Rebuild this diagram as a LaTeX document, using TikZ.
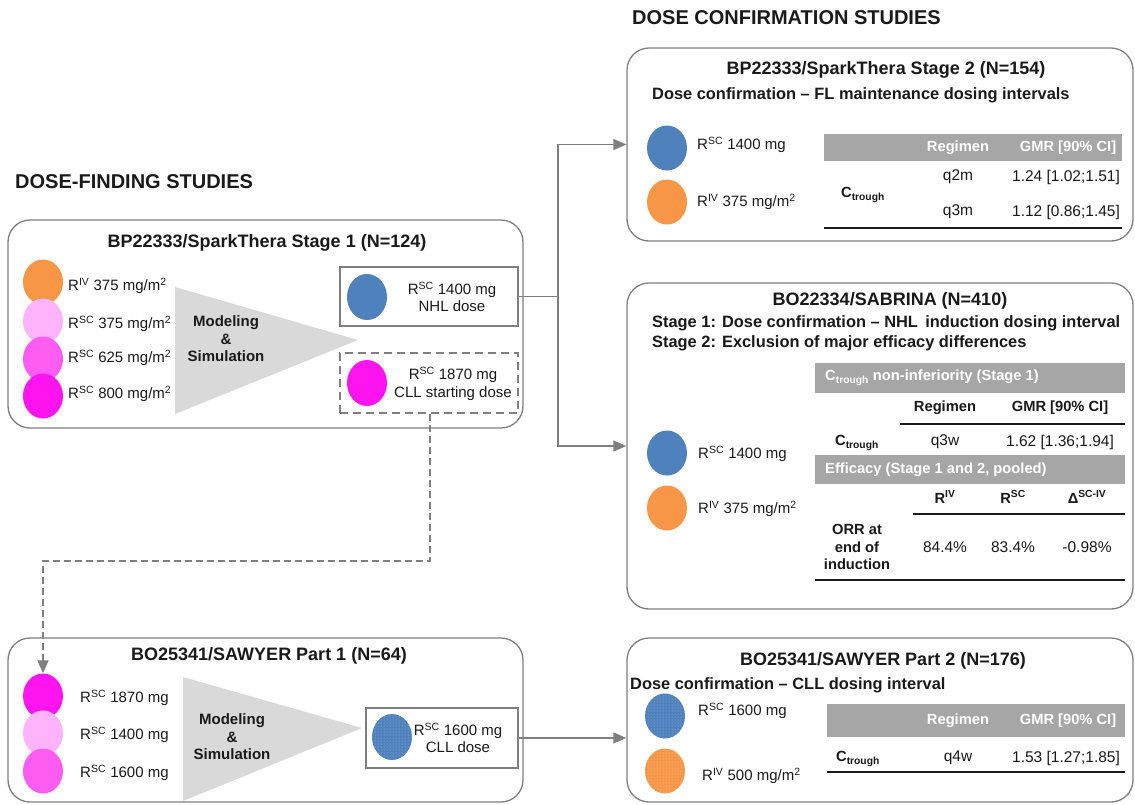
\documentclass[tikz,border=0pt]{standalone}
\usepackage{fontspec}
\setmainfont{Liberation Sans}
\usetikzlibrary{shapes.geometric,arrows.meta,patterns}
\definecolor{cOr}{HTML}{F79646}
\definecolor{cBl}{HTML}{4F81BD}
\definecolor{cPkL}{HTML}{FFB3FA}
\definecolor{cPkM}{HTML}{FF5CF2}
\definecolor{cPkD}{HTML}{FF14F0}
\definecolor{cLine}{HTML}{7F7F7F}
\definecolor{cHdr}{HTML}{A6A6A6}
\definecolor{cTri}{HTML}{D9D9D9}
\definecolor{cTxt}{HTML}{1A1A1A}
\begin{document}
\begin{tikzpicture}[x=1pt,y=-1pt,
  every node/.style={inner sep=0pt, text=cTxt},
  head/.style={font=\fontsize{20}{24}\selectfont\bfseries},
  ttl/.style={font=\fontsize{18}{21}\selectfont\bfseries},
  sub/.style={font=\fontsize{16.4}{19}\selectfont\bfseries},
  lbl/.style={font=\fontsize{15}{17.5}\selectfont},
  tb/.style={font=\fontsize{14.7}{17.5}\selectfont\bfseries},
  tw/.style={font=\fontsize{14.7}{17.5}\selectfont\bfseries, text=white},
  tr/.style={font=\fontsize{15.5}{18}\selectfont},
  ms/.style={font=\fontsize{15}{17.5}\selectfont\bfseries, align=center},
  panel/.style={draw=cLine, line width=1.3pt, rounded corners=22pt, fill=white},
  dot/.style={ellipse, minimum width=40pt, minimum height=45pt},
  ddot/.style={dot, postaction={pattern=dots, pattern color=white!55!#1}, fill=#1},
  box/.style={draw=cLine, line width=1.5pt, fill=white},
  hdr/.style={fill=cHdr, anchor=north west},
  conn/.style={draw=cLine, line width=1.6pt},
  tip/.style={-{Triangle[length=13pt,width=11pt]}},
  tri/.style={fill=cTri},
  rule/.style={draw=cTxt, line width=1.3pt}
]
\useasboundingbox (0,0) rectangle (1135,804);

% headings
\node[head, anchor=west] (h1) at (632,18) {DOSE CONFIRMATION STUDIES};
\node[head, anchor=west] (h2) at (15,182) {DOSE-FINDING STUDIES};

% panels
\node[panel, minimum width=515pt, minimum height=208pt] (p1) at (265.5,324) {};
\node[panel, minimum width=506pt, minimum height=193pt] (p2) at (880,144.5) {};
\node[panel, minimum width=506pt, minimum height=326pt] (p3) at (880,446) {};
\node[panel, minimum width=515pt, minimum height=164pt] (p4) at (265.5,720) {};
\node[panel, minimum width=506pt, minimum height=164pt] (p5) at (880,720) {};

% ---------- Stage 1 ----------
\node[ttl] (t1) at (267,243) {BP22333/SparkThera Stage 1 (N=124)};
\node[dot, fill=cOr] (a1) at (43,282) {};
\node[dot, fill=cPkL] (a2) at (43,321) {};
\node[dot, fill=cPkM] (a3) at (43,359) {};
\node[dot, fill=cPkD] (a4) at (43,396) {};
\node[lbl, anchor=west] (l1) at (68,286) {R\textsuperscript{IV} 375 mg/m\textsuperscript{2}};
\node[lbl, anchor=west] (l2) at (68,324) {R\textsuperscript{SC} 375 mg/m\textsuperscript{2}};
\node[lbl, anchor=west] (l3) at (68,358) {R\textsuperscript{SC} 625 mg/m\textsuperscript{2}};
\node[lbl, anchor=west] (l4) at (68,394) {R\textsuperscript{SC} 800 mg/m\textsuperscript{2}};
\fill[tri] (175,287) -- (175,414) -- (358,340) -- cycle;
\node[ms] (m1) at (226,339) {Modeling\\\&\\Simulation};

\node[box, minimum width=178pt, minimum height=59pt] (nb) at (429,296.5) {};
\node[dot, fill=cBl, minimum height=46pt] (nbc) at (367,297) {};
\node[lbl, align=center] (nbt) at (452,297) {R\textsuperscript{SC} 1400 mg\\NHL dose};

\node[box, dashed, dash pattern=on 8pt off 5pt, minimum width=178pt, minimum height=60pt] (cb) at (429,383) {};
\node[dot, fill=cPkD, minimum height=46pt] (cbc) at (367,383) {};
\node[lbl, align=center] (cbt) at (453,384) {R\textsuperscript{SC} 1870 mg\\CLL starting dose};

% connectors from NHL dose
\coordinate (j) at (558,300);
\draw[conn] (nb.east) -- (nb.east -| j);
\draw[conn, tip] (nb.east -| j) |- (p2.west);
\draw[conn, tip] (nb.east -| j) |- (p3.west);

% ---------- Stage 2 ----------
\node[ttl] (t2) at (886,70) {BP22333/SparkThera Stage 2 (N=154)};
\node[sub, anchor=west] (s2) at (652,95) {Dose confirmation -- FL maintenance dosing intervals};
\node[dot, fill=cBl] (b1) at (667,148) {};
\node[dot, fill=cOr] (b2) at (667,202) {};
\node[lbl, anchor=west] (bl1) at (697,145) {R\textsuperscript{SC} 1400 mg};
\node[lbl, anchor=west] (bl2) at (697,202) {R\textsuperscript{IV} 375 mg/m\textsuperscript{2}};
\node[hdr, minimum width=298pt, minimum height=27pt] (hb2) at (824,134) {};
\node[tw] (r2h1) at (958,147.5) {Regimen};
\node[tw] (r2h2) at (1068,147.5) {GMR [90\% CI]};
\node[tb] (r2c) at (863,195) {C\textsubscript{trough}};
\node[tr] (r2a) at (958,177) {q2m};
\node[tr] (r2b) at (1066,177) {1.24 [1.02;1.51]};
\node[tr] (r2d) at (958,212) {q3m};
\node[tr] (r2e) at (1066,212) {1.12 [0.86;1.45]};
\draw[rule] (824,228) -- (1122,228);

% ---------- SABRINA ----------
\node[ttl] (t3) at (890,301) {BO22334/SABRINA (N=410)};
\node[sub, anchor=west] (s3a) at (652,323) {Stage 1: Dose confirmation -- NHL\, induction dosing interval};
\node[sub, anchor=west] (s3b) at (652,343) {Stage 2: Exclusion of major efficacy differences};
\node[dot, fill=cBl] (c1) at (667,453) {};
\node[dot, fill=cOr] (c2) at (667,508) {};
\node[lbl, anchor=west] (cl1) at (698,454) {R\textsuperscript{SC} 1400 mg};
\node[lbl, anchor=west] (cl2) at (698,509) {R\textsuperscript{IV} 375 mg/m\textsuperscript{2}};
\node[hdr, minimum width=310pt, minimum height=30pt] (hb3a) at (815,363) {};
\node[tw, anchor=west] (h3a) at (825,378) {C\textsubscript{trough} non-inferiority (Stage 1)};
\node[tb] (r3h1) at (945,408) {Regimen};
\node[tb] (r3h2) at (1060,408) {GMR [90\% CI]};
\draw[rule] (900,424) -- (1125,424);
\node[tb] (r3c) at (857,443) {C\textsubscript{trough}};
\node[tr] (r3a) at (945,442) {q3w};
\node[tr] (r3b) at (1060,442) {1.62 [1.36;1.94]};
\node[hdr, minimum width=310pt, minimum height=29pt] (hb3b) at (815,455) {};
\node[tw, anchor=west] (h3b) at (825,470) {Efficacy (Stage 1 and 2, pooled)};
\node[tb] (e1) at (945,497) {R\textsuperscript{IV}};
\node[tb] (e2) at (1013,497) {R\textsuperscript{SC}};
\node[tb] (e3) at (1087,497) {Δ\textsuperscript{SC-IV}};
\draw[rule] (913,514) -- (1125,514);
\node[tb, align=center] (orr) at (857,547) {ORR at\\end of\\induction};
\node[tr] (v1) at (945,547) {84.4\%};
\node[tr] (v2) at (1013,547) {83.4\%};
\node[tr] (v3) at (1087,547) {-0.98\%};
\draw[rule] (815,580) -- (1125,580);

% ---------- SAWYER Part 1 ----------
\node[ttl] (t4) at (269,656) {BO25341/SAWYER Part 1 (N=64)};
\node[dot, fill=cPkD] (d1) at (43,696) {};
\node[dot, fill=cPkL] (d2) at (43,733) {};
\node[dot, fill=cPkM] (d3) at (43,771) {};
\node[lbl, anchor=west] (dl1) at (80,698) {R\textsuperscript{SC} 1870 mg};
\node[lbl, anchor=west] (dl2) at (80,735) {R\textsuperscript{SC} 1400 mg};
\node[lbl, anchor=west] (dl3) at (80,773) {R\textsuperscript{SC} 1600 mg};
\fill[tri] (183,677) -- (183,801) -- (362,728) -- cycle;
\node[ms] (m2) at (232,737) {Modeling\\\&\\Simulation};
\node[box, minimum width=152pt, minimum height=60pt] (lb) at (442,738) {};
\node[ddot=cBl, minimum height=46pt] (lbc) at (392,737) {};
\node[lbl, align=center] (lbt) at (458,738) {R\textsuperscript{SC} 1600 mg\\CLL dose};

% dashed connector CLL starting dose -> SAWYER part 1
\coordinate (k) at (430,561);
\draw[conn, dashed, dash pattern=on 7pt off 4pt, tip] (cb.south -| k) -- (k) -| (d1.north);

% CLL dose -> Part 2
\draw[conn, tip] (lb.east) -- (lb.east -| p5.west);

% ---------- SAWYER Part 2 ----------
\node[ttl] (t5) at (883,661) {BO25341/SAWYER Part 2 (N=176)};
\node[sub, anchor=west] (s5) at (630,685) {Dose confirmation -- CLL dosing interval};
\node[ddot=cBl] (f1) at (665,716) {};
\node[ddot=cOr] (f2) at (665,771) {};
\node[lbl, anchor=west] (fl1) at (698,711) {R\textsuperscript{SC} 1600 mg};
\node[lbl, anchor=west] (fl2) at (702,776) {R\textsuperscript{IV} 500 mg/m\textsuperscript{2}};
\node[hdr, minimum width=298pt, minimum height=33pt] (hb5) at (827,704) {};
\node[tw] (r5h1) at (958,720.5) {Regimen};
\node[tw] (r5h2) at (1068,720.5) {GMR [90\% CI]};
\node[tb] (r5c) at (858,759) {C\textsubscript{trough}};
\node[tr] (r5a) at (958,758) {q4w};
\node[tr] (r5b) at (1066,758) {1.53 [1.27;1.85]};
\draw[rule] (827,772) -- (1125,772);
\end{tikzpicture}
\end{document}
